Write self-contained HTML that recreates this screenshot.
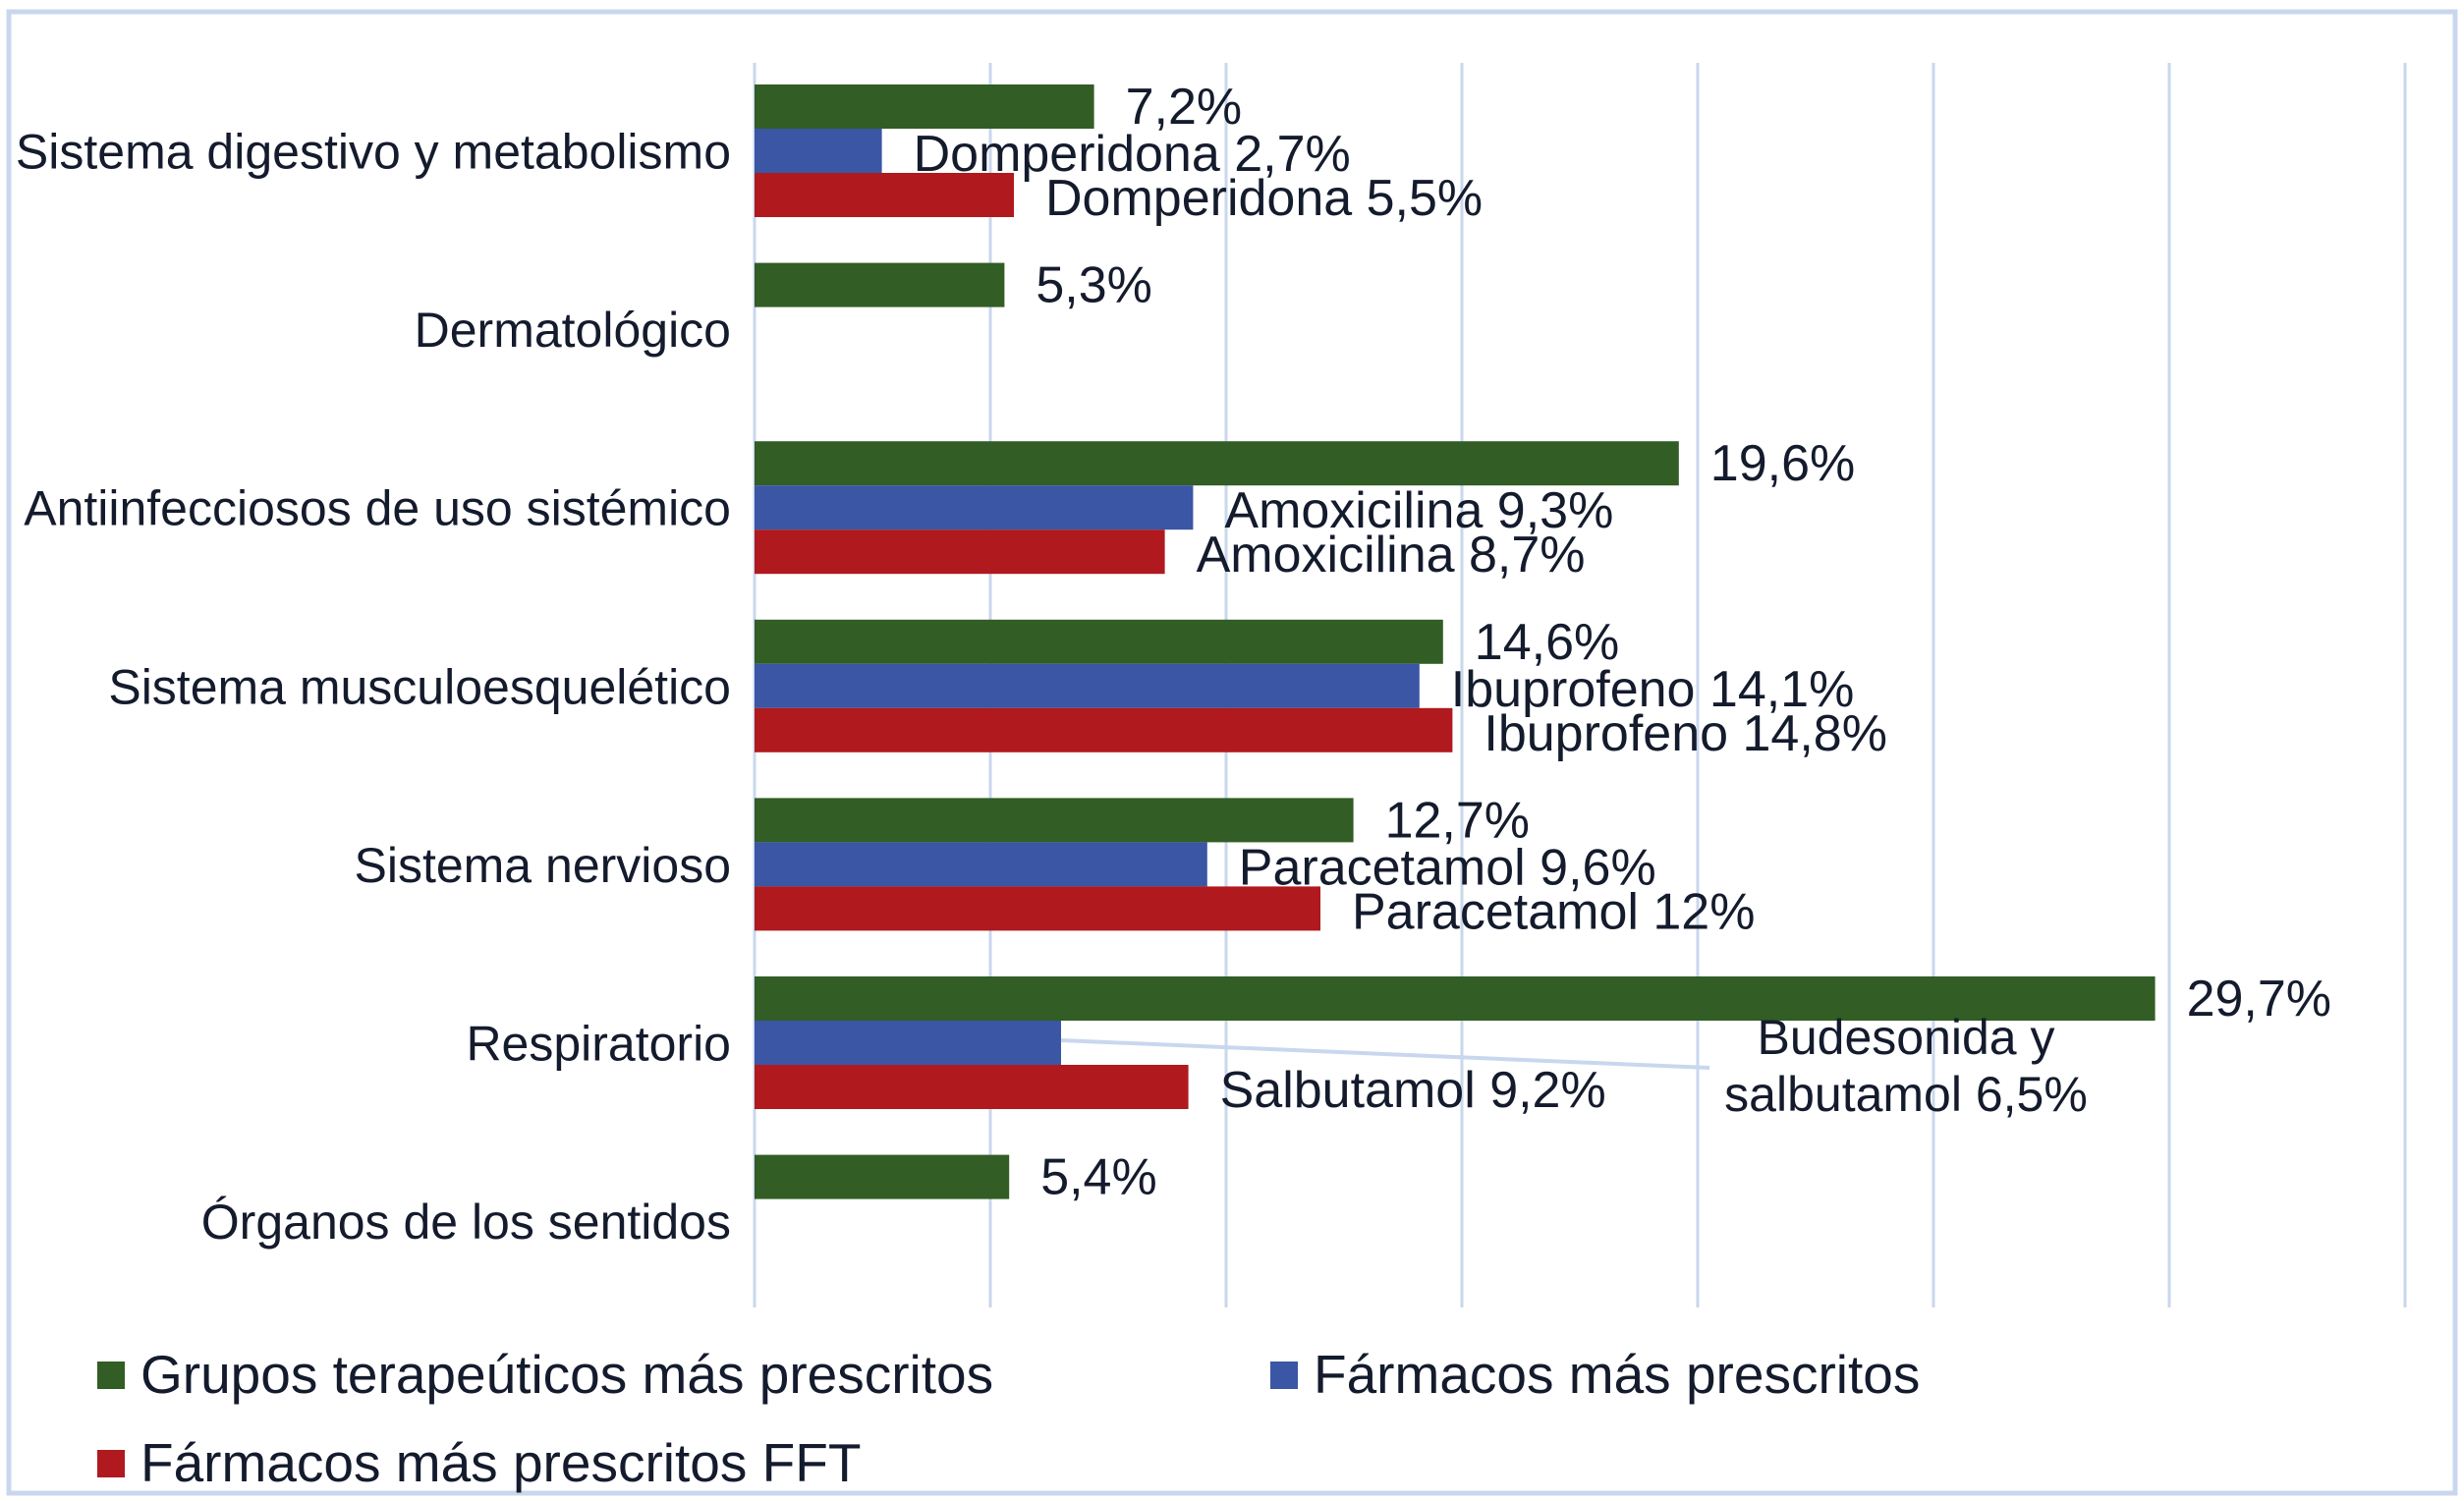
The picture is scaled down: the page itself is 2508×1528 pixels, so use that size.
<!DOCTYPE html>
<html><head><meta charset="utf-8"><style>
html,body{margin:0;padding:0;background:#fff;}
svg{display:block;font-family:"Liberation Sans",Arial,sans-serif;}
</style></head><body>
<svg id="chart" width="2508" height="1528" viewBox="0 0 2508 1528">
<rect x="9" y="12" width="2490" height="1508" fill="#fff" stroke="#c9d7ee" stroke-width="5"/>
<g id="grid"></g>
<g id="bars"></g>
<g id="labels"></g>
<g>
<rect x="99" y="1386" width="28" height="28" fill="#325d24"/>
<text x="143" y="1418" font-size="55" fill="#141b2d">Grupos terapeúticos más prescritos</text>
<rect x="1293" y="1386" width="28" height="28" fill="#3a56a5"/>
<text x="1337" y="1418" font-size="55" fill="#141b2d">Fármacos más prescritos</text>
<rect x="99" y="1476" width="28" height="28" fill="#b0191d"/>
<text x="143" y="1508" font-size="55" fill="#141b2d">Fármacos más prescritos FFT</text>
</g>
</svg>
<script>
const categories = ["Sistema digestivo y metabolismo","Dermatológico","Antiinfecciosos de uso sistémico","Sistema musculoesquelético","Sistema nervioso","Respiratorio","Órganos de los sentidos"];
const groupValues = [7.2,5.3,19.6,14.6,12.7,29.7,5.4];
const drugValues = [2.7,null,9.3,14.1,9.6,6.5,null];
const fftValues = [5.5,null,8.7,14.8,12,9.2,null];
const drugNames = ["Domperidona",null,"Amoxicilina","Ibuprofeno","Paracetamol","Budesonida y salbutamol",null];
const fftNames = ["Domperidona",null,"Amoxicilina","Ibuprofeno","Paracetamol","Salbutamol",null];
const ticks = [0,5,10,15,20,25,30,35];

const NS="http://www.w3.org/2000/svg";
const x0=768, pxPer=48, yTop=86, step=181.6, bh=45;
const X=v=>x0+v*pxPer;
const Y=(i,s)=>yTop+i*step+s*bh;
const fmt=v=>String(v).replace('.',',')+'%';
function mk(tag,attrs,parent){const e=document.createElementNS(NS,tag);for(const k in attrs)e.setAttribute(k,attrs[k]);parent.appendChild(e);return e;}
const grid=document.getElementById('grid'),bars=document.getElementById('bars'),labels=document.getElementById('labels');
ticks.forEach(t=>{const l=mk('line',{x1:X(t),x2:X(t),y1:64,y2:1331,stroke:'#c9d7ee','stroke-width':3},grid);

});
const colors=['#325d24','#3a56a5','#b0191d'];
categories.forEach((c,i)=>{
  const t=mk('text',{x:744,y:Y(i,1.5)+18,'text-anchor':'end','font-size':50,fill:'#141b2d'},labels);
  t.textContent=c;
  
  
  const series=[[groupValues[i],null],[drugValues[i],drugNames[i]],[fftValues[i],fftNames[i]]];
  series.forEach((s,k)=>{
    const v=s[0]; if(v==null) return;
    const r=mk('rect',{x:X(0),y:Y(i,k),width:X(v)-X(0),height:bh,fill:colors[k]},bars);
    
    
    const txt=(s[1]?s[1]+' ':'')+fmt(v);
    if(s[1]==='Budesonida y salbutamol'){
      const ln=mk('line',{x1:X(v),y1:Y(i,k)+20,x2:1740,y2:Y(i,k)+48,stroke:'#c9d7ee','stroke-width':4},labels);
      
      
      const t1=mk('text',{x:1940,y:Y(i,k)+34,'text-anchor':'middle','font-size':50,fill:'#141b2d'},labels);
      t1.textContent='Budesonida y';
      
      
      const t2=mk('text',{x:1940,y:Y(i,k)+92,'text-anchor':'middle','font-size':50,fill:'#141b2d'},labels);
      t2.textContent='salbutamol '+fmt(v);
      
      
      return;
    }
    const dl=mk('text',{x:X(v)+32,y:Y(i,k)+(k===0?40:43),'font-size':52,fill:'#141b2d'},labels);
    dl.textContent=txt;
    
    
  });
});
</script>
</body></html>
